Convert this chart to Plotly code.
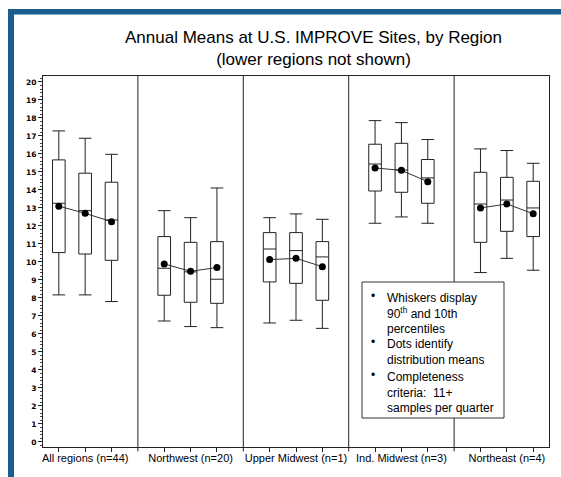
import plotly.graph_objects as go

# regions and the three boxes drawn for each one
regions = ["All regions (n=44)", "Northwest (n=20)", "Upper Midwest (n=1)",
           "Ind. Midwest (n=3)", "Northeast (n=4)"]
box_pos = [0, 1, 2, 4, 5, 6, 8, 9, 10, 12, 13, 14, 16, 17, 18]

p90 = [17.28, 16.87, 15.98, 12.85, 12.46, 14.11, 12.46, 12.67, 12.37,
       17.85, 17.74, 16.80, 16.28, 16.19, 15.48]
q3 = [15.67, 14.93, 14.43, 11.41, 11.09, 11.13, 11.63, 11.63, 11.13,
      16.54, 16.59, 15.69, 14.98, 14.70, 14.48]
median = [13.26, 12.85, 12.33, 9.65, 9.45, 9.04, 10.72, 10.63, 10.28,
          15.44, 15.11, 14.67, 13.22, 13.44, 13.00]
q1 = [10.52, 10.44, 10.09, 8.15, 7.76, 7.70, 8.89, 8.81, 7.87,
      13.94, 13.87, 13.26, 11.09, 11.70, 11.41]
p10 = [8.17, 8.17, 7.80, 6.72, 6.41, 6.35, 6.61, 6.76, 6.31,
       12.15, 12.50, 12.15, 9.41, 10.20, 9.54]
means = [13.10, 12.70, 12.24, 9.89, 9.48, 9.69, 10.13, 10.20, 9.74,
         15.22, 15.09, 14.46, 13.00, 13.22, 12.68]

notes = ["Whiskers display<br>90<sup>th</sup> and 10th<br>percentiles",
         "Dots identify<br>distribution means",
         "Completeness<br>criteria:\u00a0 11+<br>samples per quarter"]

W, H = 561, 477
ML, MR, MT, MB = 43, 12, 76, 30
PW, PH = W - ML - MR, H - MT - MB


def px_x(px):
    return (px - ML) / PW


def px_y(py):
    return (H - MB - py) / PH


fig = go.Figure()

fig.add_trace(go.Box(
    x=box_pos, q1=q1, median=median, q3=q3,
    lowerfence=p10, upperfence=p90,
    width=0.48, whiskerwidth=1, boxpoints=False,
    line=dict(color="#222222", width=1), fillcolor="rgba(255,255,255,0)",
    hoverinfo="skip", showlegend=False,
))

# mean dots joined within each region
for g in range(len(regions)):
    sl = slice(3 * g, 3 * g + 3)
    fig.add_trace(go.Scatter(
        x=box_pos[sl], y=means[sl], mode="lines+markers",
        line=dict(color="#333333", width=1),
        marker=dict(color="black", size=7),
        hoverinfo="skip", showlegend=False,
    ))

shapes = []
# vertical separators between regions
for g in range(1, len(regions)):
    sep = (box_pos[3 * g - 1] + box_pos[3 * g]) / 2
    shapes.append(dict(type="line", xref="x", yref="paper", x0=sep, x1=sep,
                       y0=-0.012, y1=1, line=dict(color="#222222", width=1)))

# blue frame along top and left
blue = "#1b5d8e"
shapes.append(dict(type="rect", xref="paper", yref="paper",
                   x0=px_x(8), x1=px_x(W + 5), y0=px_y(9), y1=px_y(14.5),
                   fillcolor=blue, line=dict(width=0), layer="above"))
shapes.append(dict(type="rect", xref="paper", yref="paper",
                   x0=px_x(8), x1=px_x(14), y0=px_y(9), y1=px_y(H + 5),
                   fillcolor=blue, line=dict(width=0), layer="above"))

# notes box
shapes.append(dict(type="rect", xref="paper", yref="paper",
                   x0=px_x(362), x1=px_x(504), y0=px_y(282), y1=px_y(418),
                   fillcolor="white", line=dict(color="#333333", width=1),
                   layer="above"))

annotations = [dict(
    text="Annual Means at U.S. IMPROVE Sites, by Region<br>(lower regions not shown)",
    xref="paper", yref="paper", x=px_x(313), y=px_y(48),
    xanchor="center", yanchor="middle", showarrow=False,
    font=dict(family="Liberation Sans, Arial", size=17, color="black"),
)]

note_top = [289, 335, 368]
for txt, top in zip(notes, note_top):
    annotations.append(dict(text="\u2022", xref="paper", yref="paper",
                            x=px_x(372.5), y=px_y(top + 7), xanchor="center",
                            yanchor="middle", showarrow=False,
                            font=dict(family="Liberation Sans, Arial", size=12,
                                      color="black")))
    annotations.append(dict(text=txt, xref="paper", yref="paper",
                            x=px_x(385), y=px_y(top), xanchor="left",
                            yanchor="top", align="left", showarrow=False,
                            font=dict(family="Liberation Sans, Arial",
                                      size=12, color="black")))

mid_pos = [box_pos[3 * g + 1] for g in range(len(regions))]
side_pos = [p for p in box_pos if p not in mid_pos]

fig.update_layout(
    width=W, height=H,
    margin=dict(l=ML, r=MR, t=MT, b=MB),
    paper_bgcolor="white", plot_bgcolor="white",
    shapes=shapes, annotations=annotations,
    xaxis=dict(
        range=[-0.6, 18.6], tickmode="array", tickvals=mid_pos,
        ticktext=regions, ticks="outside", ticklen=4, tickcolor="#222222",
        ticklabelstandoff=-3,
        minor=dict(tickmode="array", tickvals=side_pos, ticks="outside",
                   ticklen=4, tickcolor="#222222"),
        showline=True, linecolor="#222222", linewidth=1, mirror=True,
        showgrid=False, zeroline=False,
        tickfont=dict(family="Liberation Sans, Arial", size=11, color="black"),
    ),
    yaxis=dict(
        range=[-0.28, 20.33], tickmode="linear", tick0=0, dtick=1,
        ticks="outside", ticklen=4, tickcolor="#222222",
        minor=dict(dtick=0.2, ticks="outside", ticklen=2, tickcolor="#444444"),
        showline=True, linecolor="#222222", linewidth=1, mirror=True,
        showgrid=False, zeroline=False,
        tickfont=dict(family="DejaVu Sans", size=7.5, color="black",
                      weight="bold"),
    ),
)

fig.write_html("out.html", config={"displayModeBar": False},
               post_script="document.body.style.margin='0';"
                           "document.body.style.overflow='hidden';")
